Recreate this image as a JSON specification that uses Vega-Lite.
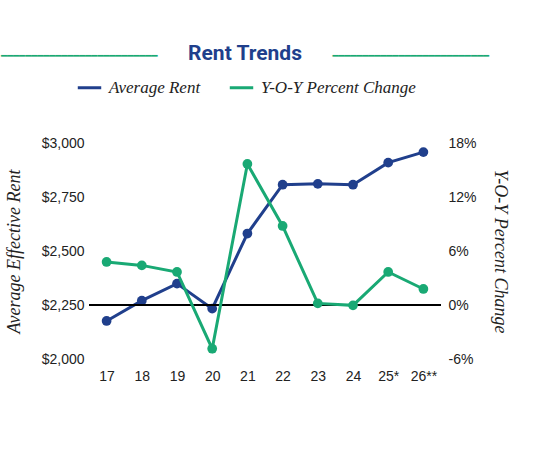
{
  "$schema": "https://vega.github.io/schema/vega-lite/v6.json",
  "autosize": {"type": "none"},
  "padding": {"left": 89, "top": 143, "right": 99, "bottom": 106},
  "width": 352,
  "height": 216,
  "background": "white",
  "title": {
    "text": "Rent Trends",
    "subtitle": "━━━━━━━━━━━━━━━━━━━━━━━━━━\u00a0\u00a0\u00a0\u00a0\u00a0\u00a0\u00a0\u00a0\u00a0\u00a0\u00a0\u00a0\u00a0\u00a0\u00a0\u00a0\u00a0\u00a0\u00a0\u00a0\u00a0\u00a0\u00a0\u00a0\u00a0\u00a0\u00a0\u00a0\u00a0\u00a0\u00a0\u00a0\u00a0\u00a0\u00a0\u00a0\u00a0\u00a0\u00a0\u00a0\u00a0\u00a0\u00a0\u00a0\u00a0\u00a0\u00a0\u00a0\u00a0\u00a0\u00a0\u00a0\u00a0\u00a0\u00a0━━━━━━━━━━━━━━━━━━━━━━━━━━",
    "anchor": "middle",
    "font": "Roboto",
    "fontSize": 21,
    "fontWeight": "bold",
    "color": "#203f8c",
    "subtitleColor": "#19a974",
    "subtitleFont": "DejaVu Sans",
    "subtitleFontSize": 10,
    "subtitlePadding": -13,
    "dx": -20,
    "offset": 10
  },
  "config": {
    "view": {"stroke": null},
    "axis": {"grid": false, "domain": false, "ticks": false, "labelColor": "#222222", "labelFont": "Liberation Sans", "labelFontSize": 14}
  },
  "data": {
    "values": [
      {"year": "17", "series": "Average Rent", "value": 2176},
      {"year": "18", "series": "Average Rent", "value": 2270},
      {"year": "19", "series": "Average Rent", "value": 2349},
      {"year": "20", "series": "Average Rent", "value": 2233},
      {"year": "21", "series": "Average Rent", "value": 2581},
      {"year": "22", "series": "Average Rent", "value": 2807},
      {"year": "23", "series": "Average Rent", "value": 2811},
      {"year": "24", "series": "Average Rent", "value": 2807},
      {"year": "25*", "series": "Average Rent", "value": 2909},
      {"year": "26**", "series": "Average Rent", "value": 2958},
      {"year": "17", "series": "Y-O-Y Percent Change", "value": 4.78},
      {"year": "18", "series": "Y-O-Y Percent Change", "value": 4.4},
      {"year": "19", "series": "Y-O-Y Percent Change", "value": 3.67},
      {"year": "20", "series": "Y-O-Y Percent Change", "value": -4.86},
      {"year": "21", "series": "Y-O-Y Percent Change", "value": 15.67},
      {"year": "22", "series": "Y-O-Y Percent Change", "value": 8.78},
      {"year": "23", "series": "Y-O-Y Percent Change", "value": 0.18},
      {"year": "24", "series": "Y-O-Y Percent Change", "value": -0.04},
      {"year": "25*", "series": "Y-O-Y Percent Change", "value": 3.67},
      {"year": "26**", "series": "Y-O-Y Percent Change", "value": 1.78}
    ]
  },
  "encoding": {
    "x": {
      "field": "year", "type": "ordinal", "sort": null,
      "scale": {"type": "point", "padding": 0.5},
      "axis": {"title": null, "labelAngle": 0, "labelPadding": 10}
    },
    "color": {
      "field": "series", "type": "nominal",
      "scale": {"domain": ["Average Rent", "Y-O-Y Percent Change"], "range": ["#203f8c", "#19a974"]},
      "legend": {
        "title": null, "orient": "none", "direction": "horizontal",
        "legendX": -13, "legendY": -69,
        "symbolType": "stroke", "symbolSize": 550, "symbolStrokeWidth": 3,
        "labelFont": "Liberation Serif", "labelFontStyle": "italic", "labelFontSize": 17, "labelColor": "#222222",
        "columnPadding": 22, "labelOffset": 6
      }
    }
  },
  "layer": [
    {
      "transform": [{"filter": "datum.series == 'Average Rent'"}],
      "encoding": {
        "y": {
          "field": "value", "type": "quantitative",
          "scale": {"domain": [2000, 3000], "nice": false, "zero": false},
          "axis": {
            "orient": "left", "values": [2000, 2250, 2500, 2750, 3000], "format": "$,.0f",
            "title": "Average Effective Rent", "titleFont": "Liberation Serif", "titleFontStyle": "italic",
            "titleFontWeight": "normal", "titleFontSize": 18, "titleColor": "#222222", "titlePadding": 18, "labelPadding": 5
          }
        }
      },
      "layer": [
        {"mark": {"type": "line", "strokeWidth": 3}},
        {"mark": {"type": "point", "filled": true, "opacity": 1, "size": 95}}
      ]
    },
    {
      "transform": [{"filter": "datum.series == 'Y-O-Y Percent Change'"}],
      "encoding": {
        "y": {
          "field": "value", "type": "quantitative",
          "scale": {"domain": [-6, 18], "nice": false, "zero": false},
          "axis": {
            "orient": "right", "values": [-6, 0, 6, 12, 18], "labelExpr": "datum.value + '%'",
            "title": "Y-O-Y Percent Change", "titleFont": "Liberation Serif", "titleFontStyle": "italic",
            "titleFontWeight": "normal", "titleFontSize": 18, "titleColor": "#222222", "titlePadding": 14, "labelPadding": 7
          }
        }
      },
      "layer": [
        {"mark": {"type": "rule", "color": "black", "strokeWidth": 1}, "encoding": {"y": {"datum": 0}, "x": {"value": 0}, "x2": {"value": 352}, "color": {"value": "black"}}},
        {"mark": {"type": "line", "strokeWidth": 3}},
        {"mark": {"type": "point", "filled": true, "opacity": 1, "size": 95}}
      ]
    }
  ],
  "resolve": {"scale": {"y": "independent"}}
}
